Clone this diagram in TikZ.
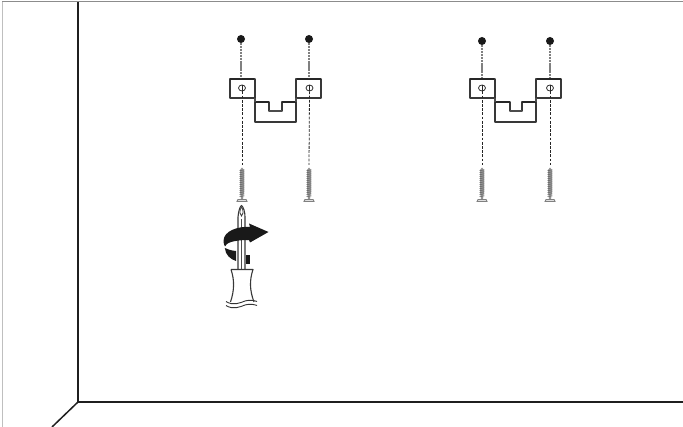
\documentclass[tikz,border=0pt]{standalone}
\usetikzlibrary{shapes.geometric}
\tikzset{
  wall/.style={line width=1.5pt,draw=black!88},
  edge/.style={line width=1pt,draw=black!25},
  part/.style={line width=1.1pt,draw=black!78,fill=white,line join=round},
  heavy/.style={line width=1.8pt,draw=black!85,line join=round},
  guideup/.style={line width=1.1pt,draw=black!50,dash pattern=on 2.2pt off 0.7pt},
  guidedown/.style={line width=0.8pt,draw=black!85,dash pattern=on 2.8pt off 1.4pt},
  anchorpt/.style={circle,fill=black!90,minimum size=8pt,inner sep=0pt},
  holept/.style={ellipse,draw=black!80,line width=0.8pt,fill=white,minimum width=7pt,minimum height=6pt,inner sep=0pt},
  pinpt/.style={inner sep=0pt,minimum size=0pt},
}
\newcommand{\bracketset}[6]{%
  \draw[part] (#2,102) -- (#5,102) -- (#5,111) -- (#6,111) -- (#6,102) -- (#3,102) -- (#3,122) -- (#2,122) -- cycle;
  \draw[heavy] (#2,102) -- (#5,102) (#6,102) -- (#3,102);
  \draw[line width=1.3pt,draw=black!70] (#5,111) -- (#6,111);
  \draw[part] (#1,79) rectangle (#2,98);
  \draw[part] (#3,79) rectangle (#4,98);
  \draw[line width=1.1pt,black!70] (#2,98) -- (#2,102) (#3,98) -- (#3,102);
  \draw[heavy] (#1,79) -- (#2-1,79);
  \draw[heavy] (#3+1,79) -- (#4,79);
}
\newcommand{\screwshape}[1]{%
  \fill[black!42] (#1-2,170) -- (#1,167.5) -- (#1+2,170) -- (#1+2,192) -- (#1+1,199) -- (#1-1,199) -- (#1-2,192) -- cycle;
  \foreach \yy in {170,172,...,196} \draw[line width=0.45pt,black!65] (#1-2.5,\yy+0.6) -- (#1+2.5,\yy-0.2);
  \draw[line width=0.9pt,black!50,fill=black!12] (#1-5,201.5) -- (#1-4,199.5) -- (#1+4,199.5) -- (#1+5,201.5) -- cycle;
}
\begin{document}
\begin{tikzpicture}[x=1pt,y=-1pt]
\useasboundingbox (0,0) rectangle (683,427);
% room
\coordinate (tl) at (2,2); \coordinate (tr) at (683,2); \coordinate (bl) at (2,427);
\coordinate (wt) at (78,2); \coordinate (cn) at (78,402); \coordinate (wr) at (683,402); \coordinate (fl) at (52,427);
\draw[line width=1pt,draw=black!45] (tl) -- (tr);
\draw[edge] (tl) -- (bl);
\draw[wall] (wt) -- (cn) -- (wr);
\draw[wall] (cn) -- (fl);
% brackets
\bracketset{230}{255}{296}{321}{269}{282}
\bracketset{470}{495}{536}{561}{510}{522}
% anchors, holes
\node[anchorpt] (d1) at (241,39) {};
\node[anchorpt] (d2) at (309,39) {};
\node[anchorpt] (d3) at (482,41) {};
\node[anchorpt] (d4) at (550,41) {};
\node[holept] (h1) at (242,88) {};
\node[holept] (h2) at (309.5,88) {};
\node[holept] (h3) at (482,88) {};
\node[holept] (h4) at (550,88) {};
\node[pinpt] (s1) at (242,165) {};
\node[pinpt] (s2) at (309,165) {};
\node[pinpt] (s3) at (482,165) {};
\node[pinpt] (s4) at (550,165) {};
\foreach \n/\ex in {1/241,2/309,3/482,4/550}{
  \draw[guideup] (d\n) -- (\ex,78);
}
\foreach \n in {1,2,3,4}{
  \draw[line width=0.8pt,black!85] (h\n.north) -- (h\n.south);
  \draw[guidedown] (h\n.south) -- (s\n);
}
\screwshape{242}\screwshape{309}\screwshape{482}\screwshape{550}
% screwdriver
\draw[part] (238,269) -- (238,217) .. controls (238.5,212) and (239.5,207) .. (241.5,205.5) .. controls (243.5,207) and (245,212) .. (245,217) -- (245,269);
\draw[line width=0.7pt,black!80] (240,213) .. controls (240,209) and (241,207.5) .. (241.5,207.5) .. controls (242,207.5) and (243,209) .. (243,213) -- (241.5,216) -- cycle;
\draw[line width=0.7pt,black!70] (241.5,219) -- (241.5,269);
\fill[black!90] (246,255) rectangle (250,264);
% handle
\draw[part] (231,269.5) -- (253,269.5) .. controls (249.5,280) and (249.5,290) .. (254,302);
\draw[part,fill=none] (231,269.5) .. controls (234.5,280) and (234.5,290) .. (230.5,302);
\draw[line width=0.9pt,black!80] (226,301.5) .. controls (233,306) and (240,303) .. (245,301) .. controls (250,299.5) and (254,300.5) .. (257,301.5);
\draw[line width=0.9pt,black!80] (226,305.5) .. controls (233,310) and (240,307) .. (245,305) .. controls (250,303.5) and (254,304.5) .. (257,305.5);
% swoosh
\fill[black!90] (268.5,232) -- (249,223.5) -- (250,227) .. controls (238,226) and (223.5,231) .. (223.5,241) .. controls (223.5,243) and (224,245) .. (225,246.5)
 .. controls (226,243) and (233,240) .. (249,240) -- (250,242.5) -- cycle;
\fill[black!90] (224.8,248) .. controls (228,249.5) and (231,250.5) .. (236,251) -- (236,261) .. controls (230,259) and (225.5,255) .. (224.8,248) -- cycle;
\end{tikzpicture}
\end{document}
